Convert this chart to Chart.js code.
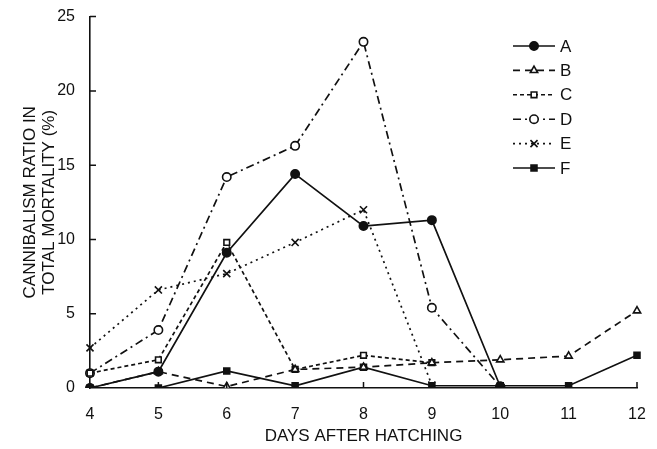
<!DOCTYPE html>
<html>
<head>
<meta charset="utf-8">
<script src="https://cdn.jsdelivr.net/npm/chart.js@4/dist/chart.umd.min.js"></script>
<style>
  html, body { margin:0; padding:0; background:#fff; }
  #wrap { width:657px; height:449px; }
</style>
</head>
<body>
<div id="wrap"><canvas id="chart" width="657" height="449"></canvas></div>
<script>
// days after hatching
const days = ['4','5','6','7','8','9','10','11','12'];
const yTicks = [0, 5, 10, 15, 20, 25];

// cannibalism ratio in total mortality (%)
const seriesA = [0, 1.1, 9.1, 14.4, 10.9, 11.3, 0.1, null, null];
const seriesB = [0, 1.1, 0.1, 1.25, 1.4, 1.7, 1.9, 2.15, 5.2];
const seriesC = [1.0, 1.9, 9.8, 1.25, 2.2, 1.7, null, null, null];
const seriesD = [1.0, 3.9, 14.2, 16.3, 23.3, 5.4, 0.1, null, null];
const seriesE = [2.7, 6.6, 7.7, 9.8, 12.0, 0.2, null, null, null];
const seriesF = [0, 0, 1.15, 0.15, 1.4, 0.15, 0.15, 0.15, 2.2];

const FONT = '"Liberation Sans", Arial, Helvetica, sans-serif';
const INK = '#111';

function ds(label, data, dash, point, filled, radius){
  return {
    label, data,
    borderColor: INK, borderWidth: 1.7, borderDash: dash,
    pointStyle: point, pointRadius: radius || 4.2, pointBorderWidth: 1.6,
    pointBorderColor: INK, pointBackgroundColor: filled ? INK : '#fff',
    fill: false, tension: 0, spanGaps: false
  };
}

const datasets = [
  ds('A', seriesA, [], 'circle', true),
  ds('B', seriesB, [7,5], 'triangle', false),
  ds('C', seriesC, [4,3], 'rect', false, 4),
  ds('D', seriesD, [8,4,2,4], 'circle', false),
  ds('E', seriesE, [2,4], 'crossRot', false, 5),
  ds('F', seriesF, [], 'rect', true, 4.2)
];

// inward tick marks on both axes
const innerTicks = {
  id: 'innerTicks',
  afterDraw(chart){
    const {ctx, scales:{x, y}, chartArea:a} = chart;
    ctx.save();
    ctx.strokeStyle = INK; ctx.lineWidth = 1.5;
    ctx.beginPath();
    yTicks.forEach(v => { if(v === 0) return; const py = y.getPixelForValue(v); ctx.moveTo(a.left, py); ctx.lineTo(a.left + 6, py); });
    days.forEach((d, i) => { if(i === 0) return; const px = x.getPixelForValue(i); ctx.moveTo(px, a.bottom); ctx.lineTo(px, a.bottom - 6); });
    ctx.stroke();
    ctx.restore();
  }
};

// legend drawn in the upper right of the plot
const boxLegend = {
  id: 'boxLegend',
  afterDraw(chart){
    const ctx = chart.ctx;
    const x0 = 513, x1 = 555, top = 46, step = 24.4;
    ctx.save();
    chart.data.datasets.forEach((d, i) => {
      const yy = top + i * step;
      ctx.strokeStyle = INK; ctx.lineWidth = 1.6;
      ctx.setLineDash(d.borderDash);
      ctx.beginPath(); ctx.moveTo(x0, yy); ctx.lineTo(x1, yy); ctx.stroke();
      ctx.setLineDash([]);
      ctx.fillStyle = d.pointBackgroundColor; ctx.strokeStyle = INK; ctx.lineWidth = d.pointBorderWidth;
      Chart.helpers.drawPoint(ctx, {
        pointStyle: d.pointStyle, radius: d.pointRadius, borderWidth: d.pointBorderWidth, rotation: 0
      }, (x0 + x1) / 2, yy);
      ctx.fillStyle = INK;
      ctx.font = '17px ' + FONT;
      ctx.textBaseline = 'middle'; ctx.textAlign = 'left';
      ctx.fillText(d.label, 560, yy + 1);
    });
    ctx.restore();
  }
};

new Chart(document.getElementById('chart'), {
  type: 'line',
  data: { labels: days, datasets },
  options: {
    responsive: false,
    animation: false,
    layout: { padding: { left: 4, right: 20, top: 16, bottom: 2 } },
    plugins: { legend: { display: false }, tooltip: { enabled: false } },
    scales: {
      x: {
        grid: { display: false },
        border: { display: true, color: INK, width: 1.6 },
        ticks: { color: INK, font: { family: FONT, size: 16 }, padding: 9, maxRotation: 0, autoSkip: false },
        title: { display: true, text: 'DAYS AFTER HATCHING', color: INK, font: { family: FONT, size: 17 }, padding: 0 },
        afterFit(s){ s.height = 59; }
      },
      y: {
        min: 0, max: 25,
        grid: { display: false },
        border: { display: true, color: INK, width: 1.6 },
        ticks: { color: INK, font: { family: FONT, size: 16 }, padding: 7, stepSize: 5 },
        title: { display: true, text: ['CANNIBALISM RATIO IN', 'TOTAL MORTALITY (%)'], color: INK,
                 font: { family: FONT, size: 17, lineHeight: 1.1 }, padding: { top: 17, bottom: 0 } },
        afterFit(s){ s.width = 86; }
      }
    }
  },
  plugins: [innerTicks, boxLegend]
});
</script>
</body>
</html>
